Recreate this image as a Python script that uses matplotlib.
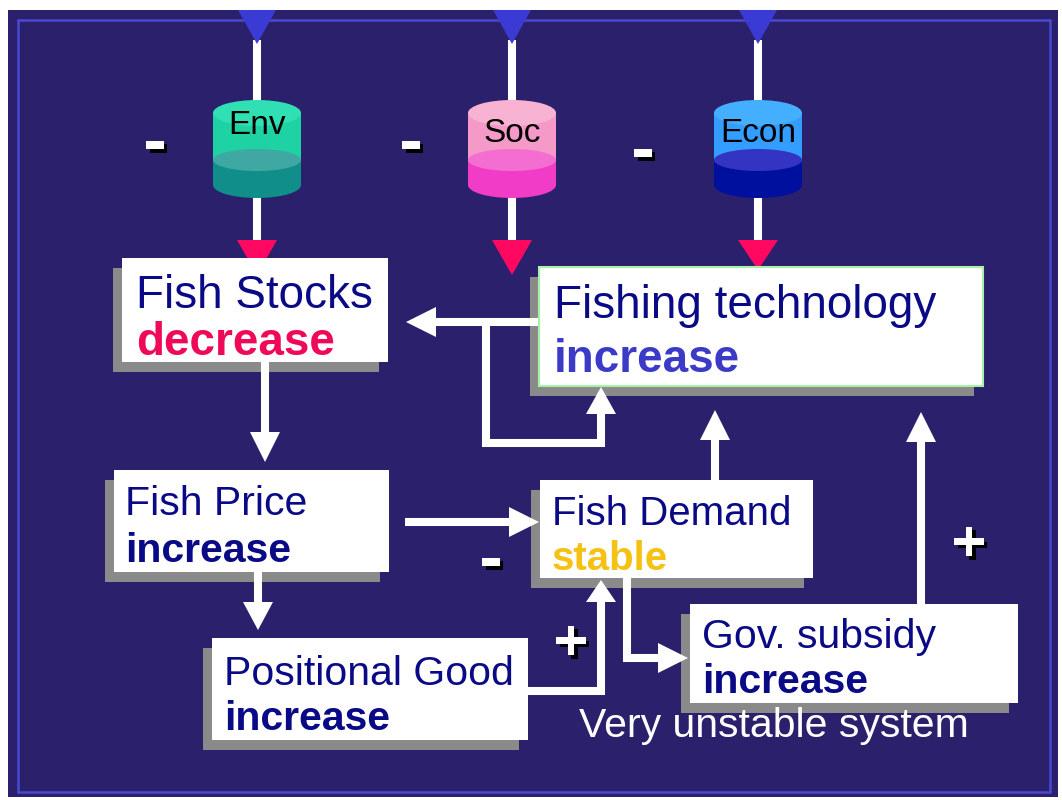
import matplotlib.pyplot as plt
import matplotlib.patheffects as pe
from matplotlib.patches import Rectangle, Ellipse, Polygon

plt.rcParams['font.family'] = ['Liberation Sans', 'DejaVu Sans']

# diagram content
pillars = ["Env", "Soc", "Econ"]
pillar_signs = ["-", "-", "-"]
box_titles = ["Fish Stocks", "Fishing technology", "Fish Price",
              "Positional Good", "Fish Demand", "Gov. subsidy"]
box_states = ["decrease", "increase", "increase",
              "increase", "stable", "increase"]
state_colors = ["#ee0a58", "#3b3bc8", "#0a0a86",
                "#0a0a86", "#f5c214", "#0a0a86"]
loop_signs = ["-", "+", "+"]
footer = "Very unstable system"

BG = "#2a206c"
NAVY = "#0a0a86"

fig = plt.figure(figsize=(10.62, 8), dpi=100)
ax = fig.add_axes([0, 0, 1, 1])
ax.set_xlim(0, 1062)
ax.set_ylim(800, 0)
ax.axis('off')

# background and frame
ax.add_patch(Rectangle((8, 10), 1050, 787, facecolor=BG, edgecolor='none', zorder=0))
ax.add_patch(Rectangle((18, 20), 1032, 772, facecolor='none', edgecolor='#4a48d0', lw=1.8, zorder=0.5))


def arrow(pts, head_len=30, head_w=30, lw=5.8, z=3.5):
    # shaft up to the head base, then a triangle head at the last point
    (x0, y0), (x1, y1) = pts[-2], pts[-1]
    d = ((x1 - x0) ** 2 + (y1 - y0) ** 2) ** 0.5
    ux, uy = (x1 - x0) / d, (y1 - y0) / d
    bx, by = x1 - ux * head_len, y1 - uy * head_len
    xs = [p[0] for p in pts[:-1]] + [bx]
    ys = [p[1] for p in pts[:-1]] + [by]
    ax.plot(xs, ys, color='white', lw=lw, solid_capstyle='butt',
            solid_joinstyle='miter', zorder=z)
    px, py = -uy * head_w / 2, ux * head_w / 2
    ax.add_patch(Polygon([(x1, y1), (bx + px, by + py), (bx - px, by - py)],
                         closed=True, facecolor='white', edgecolor='none', zorder=z))


def cylinder(cx, label, cols, w=88, top=100, bottom=198, eh=26, ym=160, ty=127):
    c_top, c_up, c_mid, c_low = cols
    yt, yb = top + eh / 2, bottom - eh / 2
    ax.add_patch(Ellipse((cx, yb), w, eh, facecolor=c_low, edgecolor='none', zorder=2))
    ax.add_patch(Rectangle((cx - w / 2, ym), w, yb - ym, facecolor=c_low, edgecolor='none', zorder=2))
    ax.add_patch(Rectangle((cx - w / 2, yt), w, ym - yt, facecolor=c_up, edgecolor='none', zorder=2))
    ax.add_patch(Ellipse((cx, ym), w, eh - 4, facecolor=c_mid, edgecolor='none', zorder=2))
    ax.add_patch(Ellipse((cx, yt), w, eh, facecolor=c_top, edgecolor='none', zorder=2))
    ax.text(cx, ty, label, ha='center', va='center', fontsize=24, color='black', zorder=2.5)


def box(x0, y0, x1, y1, title, state, scol, tx, b1, b2, fs, edge='none'):
    ax.add_patch(Rectangle((x0 - 9, y0 + 10), x1 - x0, y1 - y0,
                           facecolor='#8a8a8a', edgecolor='none', zorder=3))
    ax.add_patch(Rectangle((x0, y0), x1 - x0, y1 - y0, facecolor='white',
                           edgecolor=edge, lw=1.5, zorder=4))
    ax.text(tx, b1, title, ha='left', va='baseline', fontsize=fs, color=NAVY, zorder=5)
    ax.text(tx, b2, state, ha='left', va='baseline', fontsize=fs, color=scol,
            fontweight='bold', zorder=5)


shadow = [pe.withSimplePatchShadow(offset=(2.5, -2.5), shadow_rgbFace='black', alpha=1.0),
          pe.Normal()]


def sign(x, y, s):
    # minus and plus: white glyph with a hard black drop shadow
    fs = 50 if s == "-" else 42
    ax.text(x, y, s, ha='center', va='center', fontsize=fs, fontweight='bold',
            color='white', zorder=6, path_effects=shadow)


# three pillars feeding down
pillar_x = [257, 512, 758]
pillar_cols = [("#30e0b4", "#1ed2a4", "#3fa8a2", "#0f8e8a"),
               ("#f8b2d2", "#f59ac8", "#f46ed2", "#f03cc6"),
               ("#44aeff", "#339eff", "#3434c2", "#00109e")]
pillar_ty = [126, 134, 134]
pillar_tri = [275, 275, 270]
for cx, lab, cols, ty, tip in zip(pillar_x, pillars, pillar_cols, pillar_ty, pillar_tri):
    ax.plot([cx, cx], [40, 242], color='white', lw=5.8, solid_capstyle='butt', zorder=1)
    ax.add_patch(Polygon([(cx - 19, 10), (cx + 19, 10), (cx, 44)], closed=True,
                         facecolor='#3a3ad4', edgecolor='none', zorder=1.5))
    ax.add_patch(Polygon([(cx - 20, 240), (cx + 20, 240), (cx, tip)], closed=True,
                         facecolor='#ff0862', edgecolor='none', zorder=1.5))
    cylinder(cx, lab, cols, ty=ty)

for (sx, sy), s in zip([(155, 145), (411, 145), (643, 153)], pillar_signs):
    sign(sx, sy, s)

# boxes
box(122, 258, 388, 362, box_titles[0], box_states[0], state_colors[0], 136, 308, 355, 33)
box(539, 267, 983, 386, box_titles[1], box_states[1], state_colors[1], 554, 318, 372, 33,
    edge='#a8f0a8')
box(114, 470, 389, 572, box_titles[2], box_states[2], state_colors[2], 125, 515, 562, 29.5)
box(212, 638, 528, 740, box_titles[3], box_states[3], state_colors[3], 224, 685, 730, 29.5)
box(540, 480, 813, 578, box_titles[4], box_states[4], state_colors[4], 552, 525, 570, 29)
box(690, 604, 1018, 703, box_titles[5], box_states[5], state_colors[5], 702, 648, 693, 29.5)

# causal links
arrow([(539, 322), (406, 322)])
arrow([(486, 322), (486, 443), (601, 443), (601, 387)], head_len=27)
arrow([(265, 362), (265, 462)])
arrow([(405, 522), (539, 522)])
arrow([(258, 572), (258, 630)], head_len=28)
arrow([(528, 691), (601, 691), (601, 580)], head_len=22)
arrow([(627, 578), (627, 658), (688, 658)])
arrow([(715, 480), (715, 410)])
arrow([(921, 604), (921, 412)])

for (sx, sy), s in zip([(491, 562), (571, 645), (969, 546)], loop_signs):
    sign(sx, sy, s)

ax.text(579, 737, footer, ha='left', va='baseline', fontsize=29.5, color='white', zorder=5)

fig.savefig("out.png", dpi=100, facecolor='white')
